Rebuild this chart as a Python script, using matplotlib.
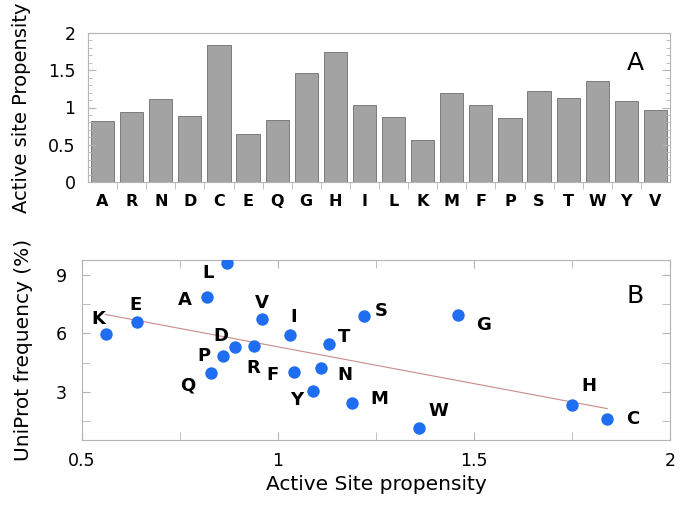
import numpy as np
import matplotlib
matplotlib.use("Agg")
import matplotlib.pyplot as plt
from matplotlib.ticker import MultipleLocator

plt.rcParams["font.family"] = ["DejaVu Sans"]

residues = ["A", "R", "N", "D", "C", "E", "Q", "G", "H", "I",
            "L", "K", "M", "F", "P", "S", "T", "W", "Y", "V"]
propensity = [0.82, 0.94, 1.11, 0.89, 1.84, 0.64, 0.83, 1.46, 1.75, 1.03,
              0.87, 0.56, 1.19, 1.04, 0.86, 1.22, 1.13, 1.36, 1.09, 0.96]
uniprot_freq = [7.84, 5.35, 4.23, 5.32, 1.60, 6.60, 3.96, 6.94, 2.32, 5.93,
                9.60, 5.95, 2.42, 4.02, 4.86, 6.87, 5.47, 1.18, 3.07, 6.72]

# label offsets (points) for the scatter annotations
label_offsets = {
    "K": (-5, 11), "E": (-1, 12), "A": (-16, -2), "L": (-14, -7),
    "V": (0, 12), "I": (3, 13), "S": (12, 4), "G": (18, -7),
    "D": (-10, 8), "T": (11, 5), "P": (-14, 0), "R": (-1, -16),
    "F": (-15, -2), "N": (17, -5), "Q": (-17, -9), "Y": (-12, -7),
    "M": (19, 3), "W": (14, 12), "H": (12, 14), "C": (18, 0),
}

spine_col = "#b4b4b4"

fig = plt.figure(figsize=(6.85, 5.05), dpi=100)
ax1 = fig.add_axes([88 / 685, 1 - 182 / 505, (670 - 88) / 685, 149 / 505])
ax2 = fig.add_axes([82 / 685, 1 - 440 / 505, (670 - 82) / 685, 180 / 505])

# panel A: bars
x = np.arange(len(residues))
ax1.bar(x, propensity, width=0.8, color="#a3a3a3", edgecolor="#6e6e6e", linewidth=0.6)
ax1.set_xlim(-0.5, len(residues) - 0.5)
ax1.set_ylim(0, 2)
ax1.set_xticks(x)
ax1.set_xticklabels(residues, fontsize=11.5, fontweight="bold")
ax1.set_xticks(x[:-1] + 0.5, minor=True)
ax1.tick_params(axis="x", which="major", length=0, pad=9)
ax1.tick_params(axis="x", which="minor", direction="out", length=5, color=spine_col)
ax1.yaxis.set_minor_locator(MultipleLocator(0.1))
ax1.set_yticks([0, 0.5, 1, 1.5, 2])
ax1.set_yticklabels(["0", "0.5", "1", "1.5", "2"])
ax1.tick_params(axis="y", which="both", direction="in", left=True, right=True,
                color=spine_col, labelsize=12.5, pad=9)
ax1.tick_params(axis="y", which="major", length=6)
ax1.tick_params(axis="y", which="minor", length=3)
ax1.set_ylabel("Active site Propensity", fontsize=14)
ax1.yaxis.set_label_coords(-0.098, 0.5)
ax1.text(0.94, 0.8, "A", transform=ax1.transAxes, fontsize=18, ha="center", va="center")

# panel B: scatter with linear fit
ax2.scatter(propensity, uniprot_freq, s=80, color="#1f6ef2", zorder=3, linewidths=0)
slope, intercept = np.polyfit(propensity, uniprot_freq, 1)
xs = np.array([min(propensity), max(propensity)])
ax2.plot(xs, slope * xs + intercept, color="#c98a8a", linewidth=0.8, zorder=2)
for r, px, py in zip(residues, propensity, uniprot_freq):
    dx, dy = label_offsets[r]
    ax2.annotate(r, (px, py), xytext=(dx, dy), textcoords="offset points",
                 ha="center", va="center", fontsize=13, fontweight="bold")
ax2.set_xlim(0.5, 2.0)
ax2.set_ylim(0.55, 9.75)
ax2.set_xticks([0.5, 1, 1.5, 2])
ax2.set_xticklabels(["0.5", "1", "1.5", "2"])
ax2.xaxis.set_minor_locator(MultipleLocator(0.25))
ax2.set_yticks([3, 6, 9])
ax2.set_yticks([1.5, 4.5, 7.5], minor=True)
ax2.tick_params(which="both", direction="in", top=True, right=True, color=spine_col,
                labelsize=12.5, length=6)
ax2.tick_params(axis="x", pad=9)
ax2.tick_params(axis="y", pad=11)
ax2.set_xlabel("Active Site propensity", fontsize=14.5, labelpad=3)
ax2.set_ylabel("UniProt frequency (%)", fontsize=14.5)
ax2.yaxis.set_label_coords(-0.083, 0.5)
ax2.text(0.94, 0.8, "B", transform=ax2.transAxes, fontsize=18, ha="center", va="center")

for ax in (ax1, ax2):
    for s in ax.spines.values():
        s.set_color(spine_col)
        s.set_linewidth(0.8)

fig.savefig("out.png", dpi=100)
